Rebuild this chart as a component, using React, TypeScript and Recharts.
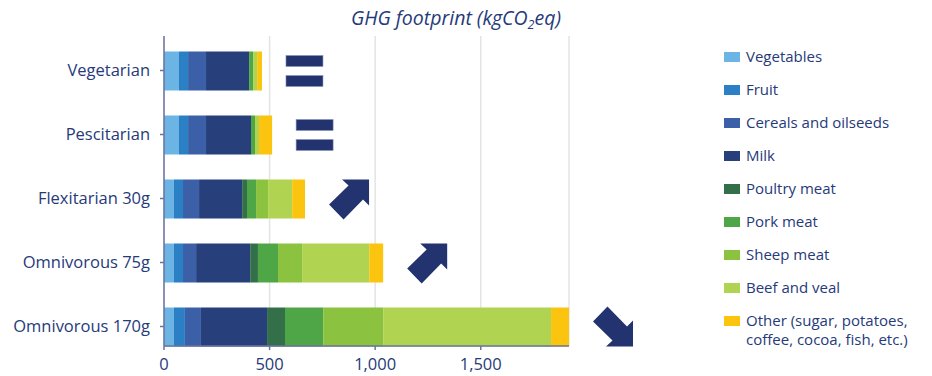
import React from "react";
import { BarChart, Bar, XAxis, YAxis, CartesianGrid } from "recharts";

const categories = ["Vegetarian", "Pescitarian", "Flexitarian 30g", "Omnivorous 75g", "Omnivorous 170g"];
const vegetables = [71, 71, 47, 47, 47];
const fruit = [43, 43, 43, 43, 52];
const cereals = [85, 85, 76, 62, 76];
const milk = [204, 213, 204, 256, 313];
const poultry = [0, 0, 23, 37, 85];
const pork = [19, 19, 43, 95, 181];
const sheep = [0, 0, 57, 114, 284];
const beef = [19, 19, 114, 318, 795];
const other = [23, 62, 61, 66, 85];
const trends = ["equal", "equal", "up", "up", "down"];
const xTicks = [0, 500, 1000, 1500];

const seriesKeys = ["vegetables", "fruit", "cereals", "milk", "poultry", "pork", "sheep", "beef", "other"];
const seriesLabels = [
  ["Vegetables"],
  ["Fruit"],
  ["Cereals and oilseeds"],
  ["Milk"],
  ["Poultry meat"],
  ["Pork meat"],
  ["Sheep meat"],
  ["Beef and veal"],
  ["Other (sugar, potatoes,", "coffee, cocoa, fish, etc.)"],
];
const seriesValues = [vegetables, fruit, cereals, milk, poultry, pork, sheep, beef, other];
const seriesColors = ["#6cb4e4", "#2a7fc5", "#3b60a8", "#27407b", "#33704a", "#4ea646", "#8bc23f", "#b0d451", "#fbc40f"];

const TEXT = "#263a7a";
const AXIS = "#6b73a0";
const NAVY = "#23336f";
const FONT = "'Open Sans', sans-serif";

const data = categories.map((name, i) => {
  const row: any = { name, trend: trends[i] };
  seriesKeys.forEach((k, j) => (row[k] = seriesValues[j][i]));
  return row;
});

const OtherShape = (props: any) => {
  const { x, y, width, height, fill, index } = props;
  const s = height / 39;
  const sx = x + width + 24 * s;
  const trend = data[index]?.trend;
  const P = (pts: number[][]) => pts.map(([a, b]) => `${sx + a * s},${y + b * s}`).join(" ");
  let sym: any = null;
  if (trend === "equal") {
    sym = (
      <g>
        <rect x={sx} y={y + 4 * s} width={37 * s} height={11 * s} fill={NAVY} stroke="#8a93bb" strokeWidth={0.6} />
        <rect x={sx} y={y + 24 * s} width={37 * s} height={11 * s} fill={NAVY} stroke="#8a93bb" strokeWidth={0.6} />
      </g>
    );
  } else if (trend === "up") {
    sym = <polygon points={P([[0, 25], [19.5, 6], [13, 0], [40, 0], [40, 26], [34, 20], [14.5, 40]])} fill={NAVY} />;
  } else if (trend === "down") {
    sym = <polygon points={P([[0, 14], [19.5, 33], [13, 39], [40, 39], [40, 13], [34, 19], [14.5, -1]])} fill={NAVY} />;
  }
  return (
    <g>
      {width > 0 && <rect x={x} y={y} width={width} height={height} fill={fill} />}
      {sym}
    </g>
  );
};

export default function App() {
  return (
    <div style={{ position: "absolute", left: 0, top: 0, width: 932, height: 376, background: "#fff", fontFamily: FONT }}>
      <div
        style={{
          position: "absolute",
          left: 0,
          width: 912,
          top: 4,
          textAlign: "center",
          fontStyle: "italic",
          fontSize: 19.5,
          fontWeight: 500,
          color: TEXT,
        }}
      >
        GHG footprint (kgCO<span style={{ fontSize: 12.5, verticalAlign: -4 }}>2</span>eq)
      </div>
      <BarChart
        width={932}
        height={376}
        data={data}
        layout="vertical"
        margin={{ top: 36, right: 363, bottom: 0, left: 0 }}
        barSize={39}
      >
        <CartesianGrid horizontal={false} vertical stroke="#e4e4e4" strokeWidth={1.5} />
        <XAxis
          type="number"
          domain={[0, "dataMax"]}
          ticks={xTicks}
          height={30}
          tickFormatter={(v: number) => v.toLocaleString("en-US")}
          axisLine={{ stroke: AXIS, strokeWidth: 1.5 }}
          tickLine={{ stroke: AXIS, strokeWidth: 1.5 }}
          tickSize={4}
          tickMargin={8}
          tick={{ fill: TEXT, fontSize: 16.5, fontFamily: FONT, fontWeight: 500 }}
          interval={0}
        />
        <YAxis
          type="category"
          dataKey="name"
          width={164}
          padding={{ top: 2.5, bottom: -12.5 }}
          axisLine={{ stroke: AXIS, strokeWidth: 1.5 }}
          tickLine={{ stroke: AXIS, strokeWidth: 1.5 }}
          tickSize={4}
          tickMargin={10}
          tick={{ fill: TEXT, fontSize: 16.5, fontFamily: FONT, fontWeight: 500 }}
          interval={0}
        />
        {seriesKeys.map((k, j) => (
          <Bar
            key={k}
            dataKey={k}
            stackId="a"
            fill={seriesColors[j]}
            isAnimationActive={false}
            shape={k === "other" ? OtherShape : undefined}
          />
        ))}
      </BarChart>
      {seriesLabels.map((lines, i) => {
        const cy = 57 + 33 * i;
        return (
          <div key={i}>
            <div
              style={{
                position: "absolute",
                left: 724,
                top: cy - 5,
                width: 16,
                height: 10,
                background: seriesColors[i],
              }}
            />
            <div
              style={{
                position: "absolute",
                left: 746,
                top: cy - 10,
                fontSize: 15,
                fontWeight: 500,
                lineHeight: "19px",
                color: TEXT,
                whiteSpace: "nowrap",
              }}
            >
              {lines.map((l, m) => (
                <div key={m}>{l}</div>
              ))}
            </div>
          </div>
        );
      })}
    </div>
  );
}
